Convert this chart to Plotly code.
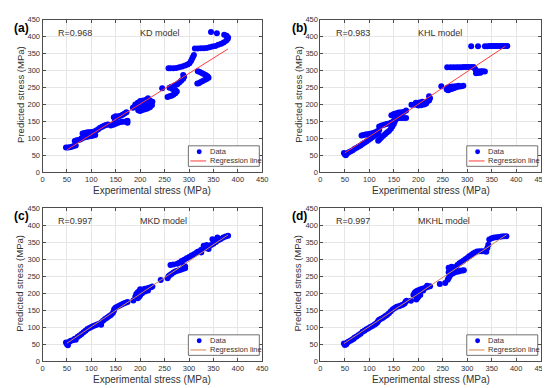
import plotly.graph_objects as go

# ---------------- data ----------------
model_names = ["KD model", "KHL model", "MKD model", "MKHL model"]
r_values = ["R=0.968", "R=0.983", "R=0.997", "R=0.997"]
panel_tags = ["(a)", "(b)", "(c)", "(d)"]
legend_labels = ["Data", "Regression line"]
tick_vals = [0, 50, 100, 150, 200, 250, 300, 350, 400, 450]

kd_pts = [
    (48, 73), (52, 73), (56, 74), (60, 75), (64, 77), (68, 79),
    (66, 92), (70, 94), (74, 95), (78, 97),
    (80, 100), (84, 102), (88, 104), (92, 105), (96, 106), (100, 107), (104, 108), (108, 110),
    (82, 114), (86, 116), (90, 117), (94, 118), (98, 118), (102, 119), (106, 120),
    (110, 123), (114, 127), (118, 131), (122, 134), (126, 137), (130, 139), (134, 141),
    (140, 138), (145, 140), (150, 143), (155, 146), (160, 148), (165, 149), (170, 150), (174, 152), (174, 146),
    (148, 150), (149, 155), (150, 160), (150, 165),
    (146, 162), (152, 163), (156, 165), (160, 167), (164, 170), (168, 173), (172, 177),
    (185, 190), (188, 193), (192, 195), (195, 197), (198, 200), (200, 196), (203, 193), (206, 195),
    (210, 198), (214, 200), (218, 203), (222, 205), (225, 208), (196, 183), (200, 181), (205, 184),
    (210, 186), (215, 188), (220, 192), (224, 198), (200, 210), (206, 212), (212, 214), (216, 218),
    (220, 212), (195, 205), (190, 200),
    (245, 248),
    (256, 222), (260, 224), (264, 226), (268, 229), (272, 233), (275, 238), (272, 243), (266, 246),
    (260, 249), (264, 252), (270, 256), (276, 260), (280, 265), (284, 270), (288, 276), (290, 282), (288, 287),
    (258, 307), (262, 307), (268, 307), (274, 308), (280, 310), (286, 312), (292, 315), (297, 318),
    (301, 322), (304, 328), (306, 334), (308, 340), (310, 346),
    (318, 298), (322, 296), (326, 293), (330, 290), (334, 287), (338, 283), (340, 279), (336, 275),
    (332, 272), (328, 269), (324, 266), (320, 263), (317, 262),
    (312, 365), (318, 365), (324, 366), (330, 366), (336, 367), (342, 369), (348, 371), (354, 373),
    (360, 376), (366, 379), (371, 383), (376, 388), (379, 393), (380, 398), (377, 403), (372, 406),
    (345, 414), (357, 410),
]

khl_pts = [
    (48, 57), (50, 52), (52, 50), (55, 56), (58, 59), (62, 62), (66, 65), (70, 69), (74, 72), (78, 76),
    (82, 79), (86, 83), (90, 87), (94, 91), (98, 95), (102, 99), (106, 103), (110, 107), (114, 111), (118, 115),
    (84, 108), (88, 110), (92, 111), (96, 112), (100, 113), (104, 114), (108, 116), (112, 118), (116, 121), (120, 124),
    (118, 93), (121, 97), (124, 102), (128, 107), (132, 112), (136, 117), (140, 122), (144, 128), (147, 135),
    (150, 142), (152, 150),
    (120, 135), (125, 138), (130, 140), (135, 142), (140, 144), (145, 147), (150, 152), (155, 157), (160, 161),
    (145, 168), (150, 172), (155, 174), (160, 176), (165, 177), (170, 178), (175, 182),
    (155, 160), (160, 160), (165, 160), (170, 160), (175, 160),
    (186, 199), (190, 199), (195, 200), (200, 201), (205, 202), (210, 204), (214, 206), (218, 209), (222, 212),
    (224, 218), (222, 224), (200, 197), (206, 198), (212, 200), (216, 203), (195, 205), (202, 206), (208, 208),
    (247, 254), (258, 244), (261, 242), (264, 244), (268, 246), (272, 248), (276, 250), (280, 252), (284, 253),
    (288, 254), (292, 255), (260, 250), (265, 252), (270, 253), (276, 254), (282, 255), (262, 247), (268, 249),
    (259, 310), (266, 310), (272, 310), (278, 310), (283, 310), (288, 310), (293, 311), (298, 311), (303, 311),
    (308, 311), (313, 311), (316, 305), (318, 300), (320, 296), (324, 297), (328, 298), (332, 298), (336, 297),
    (318, 292), (322, 293), (327, 294),
    (308, 372), (322, 372), (336, 372), (341, 372), (346, 373), (350, 373), (354, 373), (358, 373), (362, 373),
    (366, 373), (370, 373), (374, 373), (378, 373), (382, 373),
]

mkd_pts = [
    (48, 55), (50, 50), (52, 47), (55, 57), (58, 60), (62, 62), (66, 66), (68, 63), (72, 72), (76, 76),
    (80, 80), (84, 85), (88, 90), (92, 95), (96, 98), (100, 101), (104, 104), (108, 106), (112, 108),
    (116, 110), (120, 107), (120, 114), (124, 119), (128, 124), (132, 128), (136, 132), (140, 136),
    (144, 142), (146, 148), (147, 154), (150, 158), (154, 161), (158, 164), (162, 167), (166, 170),
    (170, 172), (174, 174), (186, 179),
    (190, 190), (192, 198), (195, 203), (198, 206), (202, 209), (206, 211), (210, 213), (214, 214),
    (218, 216), (222, 218), (225, 220), (195, 185), (198, 190), (200, 194), (204, 200), (210, 205),
    (216, 208), (200, 212),
    (242, 239),
    (256, 244), (258, 250), (261, 254), (264, 257), (268, 261), (272, 264), (276, 266), (280, 268),
    (284, 270), (288, 272), (292, 274), (292, 279), (290, 282), (262, 283), (268, 285), (276, 287),
    (280, 290), (285, 295), (290, 299), (295, 303), (300, 307), (305, 311), (310, 315), (315, 319),
    (320, 323), (325, 328), (330, 332), (335, 335), (340, 338), (345, 342), (350, 346), (355, 351),
    (360, 356), (365, 360), (370, 364), (375, 367), (380, 369), (340, 330), (330, 340), (336, 342),
    (348, 359), (358, 364), (325, 320), (318, 322),
]

mkhl_pts = [
    (48, 52), (50, 48), (53, 50), (55, 55), (58, 58), (62, 61), (65, 64), (68, 66), (70, 70), (74, 73),
    (78, 77), (82, 81), (86, 87), (90, 90), (94, 94), (98, 97), (102, 101), (106, 104), (110, 107),
    (113, 110), (116, 114), (118, 118), (120, 122), (124, 125), (128, 128), (132, 132), (136, 136),
    (140, 141), (144, 147), (148, 153), (152, 157), (156, 160), (160, 162), (164, 164), (168, 166),
    (172, 170), (174, 175), (176, 178), (185, 178), (196, 182),
    (190, 195), (192, 200), (194, 204), (197, 207), (200, 209), (204, 211), (208, 213), (212, 215),
    (216, 217), (220, 219), (224, 221), (198, 186), (200, 190), (204, 195), (196, 192), (210, 208), (218, 222),
    (244, 227), (255, 230),
    (260, 240), (262, 245), (264, 250), (266, 255), (270, 258), (274, 261), (278, 263), (282, 264),
    (286, 266), (290, 267), (293, 268), (262, 262), (265, 268), (268, 273), (272, 275), (276, 277),
    (262, 275), (268, 278),
    (280, 283), (284, 288), (288, 292), (292, 296), (296, 300), (300, 304), (304, 309), (308, 313),
    (312, 317), (316, 320), (320, 323), (325, 324), (330, 324), (335, 324), (339, 322), (341, 333),
    (343, 343), (345, 358), (350, 362), (355, 364), (360, 365), (365, 366), (370, 367), (375, 368), (380, 368),
]

reg_kd_x, reg_kd_y = [50, 380], [66, 364]
reg_khl_x, reg_khl_y = [50, 378], [57, 372]
reg_mkd_x, reg_mkd_y = [50, 380], [53, 372]
reg_mkhl_x, reg_mkhl_y = [48, 380], [52, 372]

# ---------------- figure ----------------
W, H = 550, 388
FONT = "Liberation Sans, Arial, Helvetica, sans-serif"
TXT = "#333333"
DATA_BLUE = "#0000ff"

# axes boxes in pixels: (left, right, top, bottom)
boxes = [(33, 256, 8, 164), (315, 538.5, 8, 164), (33, 256, 201, 357.5), (315, 538.5, 201, 357.5)]
point_sets = [kd_pts, khl_pts, mkd_pts, mkhl_pts]
regs = [(reg_kd_x, reg_kd_y), (reg_khl_x, reg_khl_y), (reg_mkd_x, reg_mkd_y), (reg_mkhl_x, reg_mkhl_y)]
reg_colors = ["#ff3b3b", "#ff3b3b", "#d2864f", "#d2864f"]


def px(xp):
    return xp / W


def py(yp):
    return 1 - yp / H


fig = go.Figure()
annotations = []
shapes = []
layout_axes = {}
for i in range(4):
    l, r, t, b = boxes[i]
    sfx = "" if i == 0 else str(i + 1)
    pts = point_sets[i]
    fig.add_trace(go.Scatter(
        x=[p[0] for p in pts], y=[p[1] for p in pts], mode="markers", name=legend_labels[0],
        marker=dict(color=DATA_BLUE, size=6, line=dict(width=0)),
        xaxis="x" + sfx, yaxis="y" + sfx, showlegend=False))
    fig.add_trace(go.Scatter(
        x=regs[i][0], y=regs[i][1], mode="lines", name=legend_labels[1],
        line=dict(color=reg_colors[i], width=1),
        xaxis="x" + sfx, yaxis="y" + sfx, showlegend=False))
    ax = dict(range=[0, 450], tickvals=tick_vals, showgrid=True, gridcolor="#e6e6e6", gridwidth=1,
              showline=True, linecolor="#4d4d4d", linewidth=1, mirror="ticks", ticks="inside",
              ticklen=3, tickcolor="#4d4d4d", tickfont=dict(size=7.5, color=TXT, family=FONT),
              zeroline=False, fixedrange=True)
    layout_axes["xaxis" + sfx] = dict(ax, domain=[px(l), px(r)], anchor="y" + sfx)
    layout_axes["yaxis" + sfx] = dict(ax, domain=[py(b), py(t)], anchor="x" + sfx)
    xr = "x" + sfx
    yr = "y" + sfx
    annotations += [
        dict(text=r_values[i], x=27, y=412, xref=xr, yref=yr, xanchor="left", yanchor="middle",
             showarrow=False, font=dict(size=9, color=TXT, family=FONT)),
        dict(text=model_names[i], x=195, y=412, xref=xr, yref=yr, xanchor="left", yanchor="middle",
             showarrow=False, font=dict(size=9, color=TXT, family=FONT)),
        dict(text="<b>" + panel_tags[i] + "</b>", x=px(l - 31), y=py(t + 8), xref="paper", yref="paper",
             xanchor="left", yanchor="middle", showarrow=False, font=dict(size=12, color="#000", family=FONT)),
        dict(text="Experimental stress (MPa)", x=px((l + r) / 2), y=py(b + 19), xref="paper",
             yref="paper", xanchor="center", yanchor="middle", showarrow=False,
             font=dict(size=10, color=TXT, family=FONT)),
        dict(text="Predicted stress (MPa)", x=px(l - 23), y=py((t + b) / 2 - 2), xref="paper",
             yref="paper", xanchor="center", yanchor="middle", textangle=-90, showarrow=False,
             font=dict(size=9.5, color=TXT, family=FONT)),
    ]
    # legend box (drawn like the MATLAB legend)
    bl, br, bt, bb = r - 75, r - 3, b - 27, b - 6
    row1, row2 = b - 21, b - 11.5
    shapes += [
        dict(type="rect", xref="paper", yref="paper", x0=px(bl), x1=px(br), y0=py(bb), y1=py(bt),
             line=dict(color="#4d4d4d", width=0.8), fillcolor="white", layer="above"),
        dict(type="circle", xref="paper", yref="paper", x0=px(bl + 8.5), x1=px(bl + 13.5),
             y0=py(row1 + 2.5), y1=py(row1 - 2.5), line=dict(width=0), fillcolor=DATA_BLUE, layer="above"),
        dict(type="line", xref="paper", yref="paper", x0=px(bl + 2), x1=px(bl + 18), y0=py(row2), y1=py(row2),
             line=dict(color=reg_colors[i], width=1), layer="above"),
    ]
    annotations += [
        dict(text=legend_labels[0], x=px(bl + 20), y=py(row1), xref="paper", yref="paper", xanchor="left",
             yanchor="middle", showarrow=False, font=dict(size=7.5, color=TXT, family=FONT)),
        dict(text=legend_labels[1], x=px(bl + 20), y=py(row2), xref="paper", yref="paper", xanchor="left",
             yanchor="middle", showarrow=False, font=dict(size=7.5, color=TXT, family=FONT)),
    ]

fig.update_layout(width=W, height=H, margin=dict(l=0, r=0, t=0, b=0), autosize=False,
                  paper_bgcolor="white", plot_bgcolor="white", annotations=annotations,
                  shapes=shapes, showlegend=False, **layout_axes)
fig.write_html("out.html")
